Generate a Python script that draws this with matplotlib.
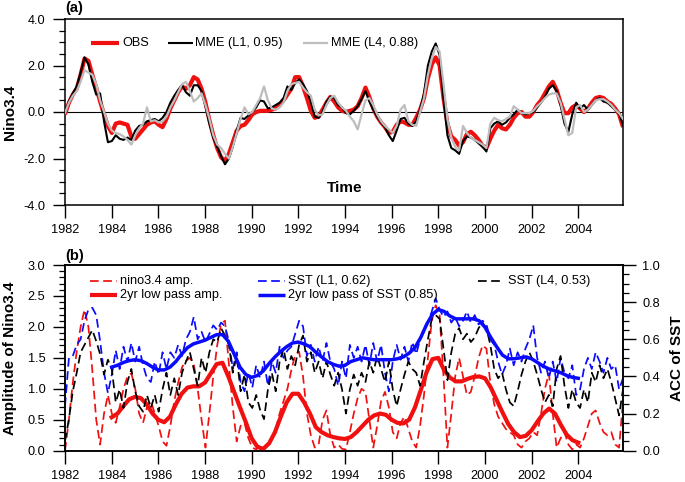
import numpy as np
import matplotlib
matplotlib.use('Agg')
import matplotlib.pyplot as plt
from matplotlib.ticker import MultipleLocator, FormatStrFormatter

plt.rcParams['font.family'] = ['Liberation Sans', 'DejaVu Sans']
plt.rcParams['axes.unicode_minus'] = False

# ---------------- data (bimonthly samples, Jan 1982 - Dec 2005) ----------------
obs = [
    -0.10, 0.40, 0.75, 1.00, 1.60, 2.30,
    2.20, 1.60, 1.05, 0.45, -0.10, -0.60,
    -0.90, -0.50, -0.45, -0.50, -0.55, -1.05,
    -1.15, -0.95, -0.75, -0.55, -0.45, -0.40,
    -0.55, -0.65, -0.30, 0.15, 0.50, 0.85,
    1.10, 1.00, 1.15, 1.50, 1.40, 1.00,
    0.40, -0.35, -1.00, -1.55, -1.95, -2.10,
    -1.80, -1.30, -0.80, -0.60, -0.55, -0.35,
    -0.10, 0.00, 0.05, 0.05, 0.05, 0.10,
    0.15, 0.30, 0.50, 0.75, 1.00, 1.50,
    1.50, 1.10, 0.60, 0.05, -0.25, -0.20,
    0.10, 0.40, 0.65, 0.45, 0.20, 0.05,
    0.00, 0.05, 0.10, 0.25, 0.60, 1.05,
    0.65, 0.15, -0.20, -0.45, -0.65, -0.90,
    -0.85, -0.55, -0.40, -0.45, -0.55, -0.55,
    -0.25, 0.10, 0.60, 1.45, 2.05, 2.35,
    2.00, 0.60, -0.50, -1.05, -1.20, -1.45,
    -1.30, -0.95, -0.85, -1.00, -1.20, -1.45,
    -1.55, -1.15, -0.80, -0.55, -0.70, -0.75,
    -0.55, -0.25, -0.05, 0.00, -0.20, -0.20,
    0.00, 0.30, 0.50, 0.80, 1.10, 1.30,
    0.95, 0.40, -0.05, -0.05, 0.20, 0.30,
    0.15, 0.00, 0.15, 0.40, 0.60, 0.65,
    0.60, 0.45, 0.35, 0.15, -0.10, -0.65,
]
mme_l1 = [
    -0.05, 0.45, 0.80, 1.10, 1.70, 2.35,
    2.05, 1.30, 0.75, 0.80, -0.40, -1.30,
    -1.25, -1.00, -1.15, -1.20, -1.10, -1.20,
    -0.80, -0.60, -0.55, -0.40, -0.35, -0.30,
    -0.40, -0.25, 0.00, 0.40, 0.70, 0.95,
    1.15, 0.85, 0.70, 1.15, 1.15, 0.90,
    0.25, -0.50, -1.10, -1.50, -1.90, -2.25,
    -2.00, -1.50, -0.80, -0.25, -0.30, -0.15,
    0.00, 0.20, 0.50, 0.45, 0.15, 0.20,
    0.30, 0.40, 0.60, 1.10, 0.95, 1.25,
    1.40, 1.20, 0.90, 0.45, -0.20, -0.25,
    0.00, 0.45, 0.65, 0.60, 0.30, 0.20,
    -0.05, -0.10, 0.05, 0.25, 0.55, 0.90,
    0.45, 0.10, -0.20, -0.45, -0.65, -1.00,
    -1.25, -0.80, -0.30, -0.25, -0.50, -0.60,
    -0.40, 0.10, 0.80, 2.00, 2.60, 2.95,
    2.45, 0.60, -1.00, -1.55, -1.65, -1.80,
    -1.25, -1.05, -1.10, -1.20, -1.35, -1.50,
    -1.70, -0.70, -0.50, -0.40, -0.55, -0.45,
    -0.25, -0.10, 0.10, -0.05, -0.10, -0.05,
    0.00, 0.20, 0.40, 0.65, 1.00, 1.15,
    0.90, 0.30, -0.50, -0.85, -0.10, 0.40,
    0.15, 0.30, 0.10, 0.30, 0.50, 0.60,
    0.45, 0.40, 0.25, 0.10, -0.05, -0.55,
]
mme_l4 = [
    -0.05, 0.40, 0.70, 0.90, 1.30, 1.80,
    1.70, 1.60, 1.20, 0.50, 0.00, -0.50,
    -0.80, -0.90, -0.95, -1.05, -1.20, -1.40,
    -1.00, -0.70, -0.50, 0.20, -0.40, -0.35,
    -0.45, -0.40, -0.20, 0.20, 0.50, 0.85,
    1.20, 1.30, 0.90, 0.45, 0.60, 0.80,
    0.30, -0.30, -1.00, -1.40, -1.55, -1.80,
    -2.00, -1.50, -0.90, -0.30, 0.20, -0.10,
    0.00, 0.30, 0.60, 1.10, 0.50, 0.15,
    0.10, 0.20, 0.40, 0.90, 1.20, 1.25,
    1.30, 1.05, 0.85, 0.70, 0.10, -0.15,
    -0.10, 0.30, 0.60, 0.70, 0.40, 0.20,
    0.05, -0.20, -0.40, -0.75, -0.10, 0.50,
    0.60, 0.30, -0.10, -0.40, -0.60, -0.75,
    -0.90, -0.60, 0.10, 0.30, -0.40, -0.55,
    -0.60, 0.00, 0.60, 1.60, 2.30, 2.80,
    2.60, 1.20, -0.30, -1.10, -1.50, -1.65,
    -0.60, -0.90, -1.10, -1.20, -1.30, -1.40,
    -1.55, -0.50, -0.25, -0.35, -0.40, -0.30,
    -0.20, 0.25, 0.10, -0.05, -0.05, -0.05,
    0.05, 0.25, 0.40, 0.60, 0.75, 0.80,
    0.80, 0.40, -0.30, -1.00, -0.90, 0.20,
    0.30, 0.00, 0.10, 0.30, 0.50, 0.55,
    0.55, 0.45, 0.30, 0.10, -0.05, -0.30,
]
nino_amp = [
    0.00, 0.50, 1.10, 1.60, 2.00, 2.28,
    2.00, 1.30, 0.50, 0.10, 0.60, 0.90,
    0.60, 0.45, 0.70, 1.00, 1.20, 1.25,
    1.00, 0.60, 0.45, 0.70, 0.80, 0.60,
    0.40, 0.15, 0.08, 0.40, 0.80, 1.10,
    1.35, 1.45, 1.50, 1.40, 1.00, 0.50,
    0.05, 0.60, 1.20, 1.70, 2.05, 2.10,
    1.40, 0.70, 0.15, 0.40, 0.45, 0.20,
    0.05, 0.02, 0.10, 0.02, 0.10, 0.20,
    0.35, 0.60, 0.80, 1.00, 1.30, 1.55,
    1.60, 1.20, 0.60, 0.25, 0.05, 0.10,
    0.50, 0.65, 0.25, 0.05, 0.10, 0.03,
    0.02, 0.30, 0.60, 0.85, 1.00, 0.95,
    0.50, 0.05, 0.40, 0.80, 0.95, 0.70,
    0.30, 0.20, 0.45, 0.55, 0.35, 0.15,
    0.05, 0.40, 0.90, 1.50, 2.10, 2.35,
    2.20, 1.20, 0.05, 0.60, 1.20, 1.50,
    1.20, 0.90, 0.95, 1.20, 1.50, 1.70,
    1.65, 1.10, 0.75, 0.55, 0.45, 0.35,
    0.30, 0.25, 0.10, 0.05, 0.15, 0.20,
    0.30, 0.25, 0.60, 1.00, 1.25, 0.60,
    0.05, 0.20, 0.30, 0.10, 0.02, 0.10,
    0.05, 0.20, 0.40, 0.60, 0.65, 0.45,
    0.30, 0.25, 0.30, 0.10, 0.05, 0.80,
]
sst_l1 = [
    0.24, 0.50, 0.51, 0.57, 0.60, 0.70,
    0.76, 0.77, 0.73, 0.59, 0.42, 0.31,
    0.41, 0.54, 0.44, 0.56, 0.48, 0.58,
    0.48, 0.56, 0.46, 0.39, 0.37, 0.48,
    0.41, 0.53, 0.44, 0.53, 0.50, 0.57,
    0.51, 0.60, 0.64, 0.72, 0.60, 0.64,
    0.585, 0.63, 0.675, 0.65, 0.69, 0.67,
    0.59, 0.44, 0.53, 0.37, 0.32, 0.42,
    0.34, 0.46, 0.39, 0.48, 0.35, 0.48,
    0.42, 0.56, 0.50, 0.54, 0.56, 0.63,
    0.70, 0.67, 0.51, 0.57, 0.48, 0.56,
    0.48, 0.58, 0.48, 0.44, 0.35, 0.48,
    0.39, 0.57, 0.50, 0.56, 0.48, 0.57,
    0.46, 0.58, 0.48, 0.57, 0.42, 0.32,
    0.48, 0.57, 0.49, 0.56, 0.48, 0.585,
    0.52, 0.60, 0.66, 0.69, 0.75, 0.82,
    0.76, 0.72, 0.75, 0.69, 0.72, 0.67,
    0.70, 0.75, 0.69, 0.73, 0.68, 0.70,
    0.68, 0.60, 0.57, 0.48, 0.41, 0.46,
    0.55, 0.46, 0.53, 0.48, 0.55, 0.60,
    0.675, 0.50, 0.42, 0.48, 0.39, 0.48,
    0.37, 0.50, 0.42, 0.39, 0.46, 0.30,
    0.33, 0.44, 0.50, 0.44, 0.53, 0.48,
    0.42, 0.50, 0.44, 0.46, 0.33, 0.39,
]
sst_l4 = [
    0.05, 0.17, 0.32, 0.42, 0.53, 0.57,
    0.61, 0.65, 0.59, 0.52, 0.41, 0.49,
    0.44, 0.26, 0.33, 0.23, 0.37, 0.44,
    0.32, 0.24, 0.21, 0.30, 0.23, 0.30,
    0.21, 0.33, 0.42, 0.30, 0.39, 0.30,
    0.42, 0.48, 0.53, 0.44, 0.35, 0.50,
    0.42, 0.53, 0.60, 0.585, 0.66, 0.62,
    0.57, 0.42, 0.51, 0.32, 0.41, 0.26,
    0.23, 0.30, 0.22, 0.17, 0.33, 0.42,
    0.32, 0.48, 0.55, 0.44, 0.51, 0.46,
    0.57, 0.62, 0.48, 0.53, 0.42, 0.48,
    0.39, 0.48, 0.41, 0.35, 0.42, 0.33,
    0.20, 0.33, 0.41, 0.35, 0.42, 0.37,
    0.48, 0.42, 0.51, 0.44, 0.37, 0.48,
    0.33, 0.24, 0.33, 0.41, 0.48, 0.44,
    0.42, 0.35, 0.48, 0.60, 0.71, 0.73,
    0.71, 0.55, 0.38, 0.53, 0.63, 0.66,
    0.60, 0.63, 0.585, 0.61, 0.66, 0.69,
    0.66, 0.57, 0.44, 0.39, 0.42, 0.33,
    0.26, 0.24, 0.32, 0.41, 0.48, 0.53,
    0.48, 0.41, 0.33, 0.26, 0.30, 0.24,
    0.44, 0.51, 0.35, 0.23, 0.33, 0.26,
    0.23, 0.33, 0.26, 0.42, 0.37, 0.46,
    0.39, 0.44, 0.37, 0.28, 0.19, 0.33,
]

# 2-yr low-pass series, quarterly samples 1984.0 - 2004.0
amp_lp = [
    0.54, 0.60, 0.72, 0.83, 0.87, 0.85, 0.75, 0.60,
    0.50, 0.46, 0.55, 0.75, 0.92, 1.02, 1.04, 1.04,
    1.10, 1.25, 1.40, 1.42, 1.20, 0.95, 0.70, 0.46,
    0.20, 0.06, 0.03, 0.12, 0.30, 0.55, 0.78, 0.92,
    0.92, 0.78, 0.60, 0.38, 0.30, 0.25, 0.22, 0.20,
    0.19, 0.22, 0.30, 0.40, 0.50, 0.57, 0.60, 0.58,
    0.50, 0.45, 0.44, 0.50, 0.70, 0.98, 1.27, 1.48,
    1.50, 1.30, 1.18, 1.12, 1.12, 1.16, 1.19, 1.20,
    1.17, 1.02, 0.82, 0.62, 0.43, 0.30, 0.22, 0.24,
    0.33, 0.47, 0.60, 0.68, 0.60, 0.42, 0.26, 0.17,
    0.13,
]
sst_lp = [
    0.450, 0.460, 0.475, 0.485, 0.490, 0.485, 0.470, 0.450,
    0.435, 0.435, 0.450, 0.480, 0.520, 0.555, 0.575, 0.585,
    0.595, 0.610, 0.625, 0.625, 0.590, 0.520, 0.450, 0.410,
    0.395, 0.405, 0.430, 0.470, 0.505, 0.535, 0.560, 0.580,
    0.585, 0.575, 0.560, 0.530, 0.505, 0.480, 0.465, 0.455,
    0.460, 0.480, 0.490, 0.500, 0.495, 0.490, 0.490, 0.490,
    0.490, 0.495, 0.505, 0.525, 0.555, 0.610, 0.680, 0.735,
    0.760, 0.750, 0.725, 0.710, 0.710, 0.710, 0.710, 0.700,
    0.665, 0.610, 0.560, 0.515, 0.495, 0.495, 0.500, 0.505,
    0.495, 0.475, 0.455, 0.440, 0.430, 0.420, 0.405, 0.395,
    0.390,
]

xticks = [1982, 1984, 1986, 1988, 1990, 1992, 1994, 1996, 1998, 2000, 2002, 2004]

t_start, t_end = 1982.0, 2005 + 11 / 12
lp_start, lp_step = 1984.0, 0.25
t6 = np.linspace(t_start, t_end, len(obs))
tq = lp_start + lp_step * np.arange(len(amp_lp))

RED = '#f01010'
BLUE = '#0a0aff'
GREY = '#bdbdbd'

W, H = 685, 482
fig = plt.figure(figsize=(W / 100, H / 100), dpi=100)

def fx(px):
    return px / W

def fy(py):
    return 1 - py / H

L, R = 65, 623
ax_a = fig.add_axes([fx(L), fy(205), (R - L) / W, 186 / H])
ax_b = fig.add_axes([fx(L), fy(450.7), (R - L) / W, 185.7 / H])

TICK_FS = 9.2
MAJ = dict(direction='out', length=9, width=1.0, labelsize=TICK_FS, pad=5)
MIN = dict(direction='out', length=4.5, width=0.9)

for ax in (ax_a, ax_b):
    ax.set_xlim(t_start, t_end)
    ax.set_xticks(xticks)
    for s in ax.spines.values():
        s.set_linewidth(1.1)

# ---------------- panel (a) ----------------
ax_a.axhline(0, color='black', lw=0.8, zorder=1)
ax_a.plot(t6, obs, color=RED, lw=3.0, zorder=2, solid_capstyle='butt')
ax_a.plot(t6, mme_l1, color='black', lw=1.5, zorder=3)
ax_a.plot(t6, mme_l4, color=GREY, lw=1.6, zorder=4)
ax_a.set_ylim(-4, 4)
ax_a.yaxis.set_major_locator(MultipleLocator(2.0))
ax_a.yaxis.set_minor_locator(MultipleLocator(0.5))
ax_a.yaxis.set_major_formatter(FormatStrFormatter('%.1f'))
ax_a.text(0.502, 0.091, 'Time', transform=ax_a.transAxes, ha='center',
          va='center', fontsize=11, fontweight='bold')

# legend (a)
ya = (205 - 42.7) / 186
def xa(px):
    return (px - L) / (R - L)
leg_a = [((91, 119), 122, RED, 3.0, 'OBS'),
         ((168, 193), 195, 'black', 1.5, 'MME (L1, 0.95)'),
         ((303, 328), 331, GREY, 1.6, 'MME (L4, 0.88)')]
for (x0, x1), xt, c, lw, lab in leg_a:
    ax_a.plot([xa(x0), xa(x1)], [ya, ya], color=c, lw=lw,
              transform=ax_a.transAxes, clip_on=False, solid_capstyle='butt')
    ax_a.text(xa(xt), ya, lab, transform=ax_a.transAxes, ha='left',
              va='center', fontsize=9.2)

# ---------------- panel (b) ----------------
DASH = (5, 2.6)
ax_b.plot(t6, nino_amp, color=RED, lw=1.25, dashes=DASH, zorder=2)
ax_b.plot(tq, amp_lp, color=RED, lw=3.0, zorder=3)
ax_b.set_ylim(0, 3)
ax_b.yaxis.set_major_locator(MultipleLocator(0.5))
ax_b.yaxis.set_minor_locator(MultipleLocator(0.1))
ax_b.yaxis.set_major_formatter(FormatStrFormatter('%.1f'))

ax_c = ax_b.twinx()
ax_c.set_xlim(t_start, t_end)
ax_c.plot(t6, sst_l1, color=BLUE, lw=1.25, dashes=DASH, zorder=2)
ax_c.plot(t6, sst_l4, color='black', lw=1.25, dashes=DASH, zorder=3)
ax_c.plot(tq, sst_lp, color=BLUE, lw=2.5, zorder=4)
ax_c.set_ylim(0, 1)
ax_c.yaxis.set_major_locator(MultipleLocator(0.2))
ax_c.yaxis.set_minor_locator(MultipleLocator(0.05))
ax_c.yaxis.set_major_formatter(FormatStrFormatter('%.1f'))
for s in ax_c.spines.values():
    s.set_linewidth(1.1)

# legend (b)
def yb(py):
    return (450.7 - py) / 185.7
r1, r2 = yb(281.0), yb(295.0)
leg_b = [((90, 117), 120, r1, RED, 1.25, True, 'nino3.4 amp.'),
         ((90, 117), 120, r2, RED, 3.0, False, '2yr low pass amp.'),
         ((258, 285), 288, r1, BLUE, 1.25, True, 'SST (L1, 0.62)'),
         ((258, 285), 288, r2, BLUE, 2.5, False, '2yr low pass of SST (0.85)'),
         ((478, 503), 508, r1, 'black', 1.25, True, 'SST (L4, 0.53)')]
for (x0, x1), xt, y, c, lw, dashed, lab in leg_b:
    kw = dict(dashes=DASH) if dashed else dict(solid_capstyle='butt')
    ax_c.plot([xa(x0), xa(x1)], [y, y], color=c, lw=lw,
              transform=ax_c.transAxes, clip_on=False, **kw)
    ax_c.text(xa(xt), y, lab, transform=ax_c.transAxes, ha='left',
              va='center', fontsize=9.2)

# ticks (applied last so nothing resets them)
for ax in (ax_a, ax_b):
    ax.xaxis.set_tick_params(which='major', bottom=True, top=False, **MAJ)
    ax.yaxis.set_tick_params(which='major', left=True, right=False, **MAJ)
    ax.yaxis.set_tick_params(which='minor', left=True, right=False, **MIN)
ax_c.yaxis.set_tick_params(which='major', right=True, left=False, **MAJ)
ax_c.yaxis.set_tick_params(which='minor', right=True, left=False, **MIN)
ax_c.xaxis.set_tick_params(which='both', bottom=False, top=False,
                           labelbottom=False, labeltop=False)

# axis titles
fig.text(fx(10), fy(112), 'Nino3.4', rotation=90, ha='center', va='center',
         fontsize=11, fontweight='bold')
fig.text(fx(10), fy(358), 'Amplitude of Nino3.4', rotation=90, ha='center',
         va='center', fontsize=11, fontweight='bold')
fig.text(fx(677), fy(358), 'ACC of SST', rotation=90, ha='center',
         va='center', fontsize=11, fontweight='bold')

# panel labels
fig.text(fx(65), fy(8), '(a)', ha='left', va='center', fontsize=10.5,
         fontweight='bold')
fig.text(fx(65), fy(256), '(b)', ha='left', va='center', fontsize=10.5,
         fontweight='bold')

fig.savefig('out.png', dpi=100)
